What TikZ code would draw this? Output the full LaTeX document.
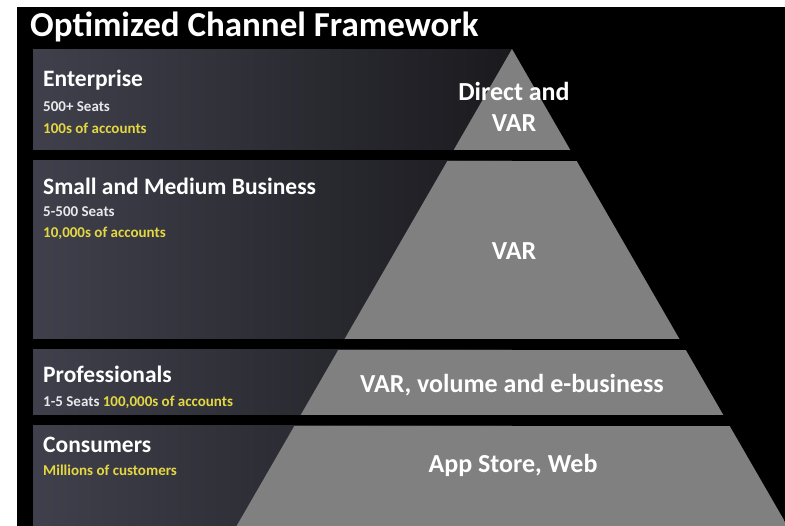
\documentclass[tikz,border=0pt]{standalone}
\usepackage{fontspec}
\setmainfont{Carlito}
\usetikzlibrary{positioning}

\definecolor{panelL}{RGB}{64,64,76}
\definecolor{panelR}{RGB}{26,26,30}
\definecolor{pyrgray}{RGB}{128,128,128}
\definecolor{acct}{RGB}{228,216,66}
\definecolor{seat}{RGB}{232,232,236}

\begin{document}
\begin{tikzpicture}[
  x=1pt, y=-1pt,
  panel/.style={left color=panelL, right color=panelR},
  band/.style={fill=pyrgray},
  head/.style={anchor=base west, inner sep=0pt, text=white, font=\bfseries\fontsize{23.5}{25}\selectfont},
  seats/.style={anchor=base west, inner sep=0pt, text=seat, font=\bfseries\fontsize{15}{16}\selectfont},
  accts/.style={seats, text=acct},
  channel/.style={anchor=base, inner sep=0pt, text=white, align=center, font=\bfseries\fontsize{26}{31}\selectfont}
]
  \useasboundingbox (0,0) rectangle (785,526);
  \fill[black] (17,7) rectangle (785,526);

  \node[anchor=base west, inner sep=0pt, text=white, font=\bfseries\fontsize{35}{37}\selectfont] (title) at (30,37) {Optimized Channel Framework};

  \fill[panel] (33,50) rectangle (512,150);
  \fill[panel] (33,161) rectangle (512,339);
  \fill[panel] (33,350) rectangle (512,415);
  \fill[panel] (33,426) rectangle (512,526);

  \begin{scope}
    \clip (512,49) -- ({512+0.5774*477},526) -- ({512-0.5774*477},526) -- cycle;
    \fill[band] (200,49) rectangle (785,150);
    \fill[band] (200,161) rectangle (785,339);
    \fill[band] (200,350) rectangle (785,415);
    \fill[band] (200,426) rectangle (785,526);
  \end{scope}

  \node[head] (ent) at (43,87) {Enterprise};
  \node[seats] (entseats) at (43,112) {500+ Seats};
  \node[accts] (entaccts) at (43,134) {100s of accounts};

  \node[head] (smb) at (43,195) {Small and Medium Business};
  \node[seats] (smbseats) at (43,217) {5-500 Seats};
  \node[accts] (smbaccts) at (43,238) {10,000s of accounts};

  \node[head] (pro) at (43,383) {Professionals};
  \node[seats] (proseats) at (43,407) {1-5 Seats \textcolor{acct}{100,000s of accounts}};

  \node[head] (cons) at (43,453) {Consumers};
  \node[accts] (consaccts) at (43,476) {Millions of customers};

  \node[channel] (direct) at (514,132) {Direct and\\VAR};
  \node[channel] (var) at (514,260) {VAR};
  \node[channel] (volume) at (512,393) {VAR, volume and e-business};
  \node[channel] (store) at (513,473) {App Store, Web};
\end{tikzpicture}
\end{document}
